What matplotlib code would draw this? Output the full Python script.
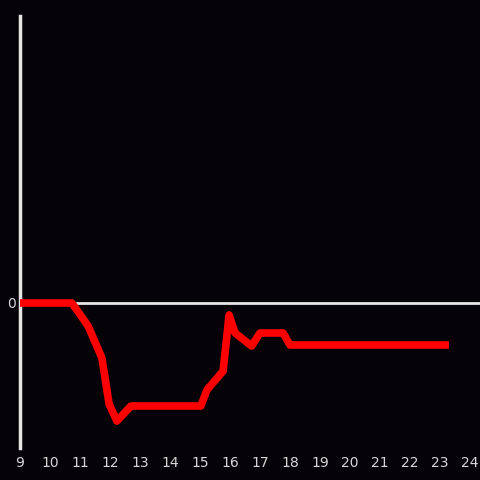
import matplotlib
matplotlib.use('Agg')
import matplotlib.pyplot as plt

# hour of day vs value
hours = [9, 10.73, 11.27, 11.73, 11.97, 12.23, 12.7, 15.03, 15.23, 15.77,
         15.97, 16.17, 16.72, 17.0, 17.77, 18.0, 23.3]
values = [0, 0, -23, -55, -101, -118, -103, -103, -87, -68,
          -12, -30, -43, -30, -30, -42, -42]
xticks = list(range(9, 25))

bg = '#050307'
fig = plt.figure(figsize=(4.8, 4.8), dpi=100, facecolor=bg)
ax = fig.add_axes([20 / 480, 32 / 480, 460 / 480, 432 / 480], facecolor=bg)

ax.axhline(0, color='#e6e6e6', linewidth=2, zorder=1)
ax.plot(hours, values, color='#ff0000', linewidth=5.5,
        solid_joinstyle='round', solid_capstyle='butt', zorder=3)

ax.set_xlim(9, 9 + 460 / 30)
ax.set_ylim(-145, 287)

for s in ['top', 'right', 'bottom']:
    ax.spines[s].set_visible(False)
ax.spines['left'].set_color('#e6e6e6')
ax.spines['left'].set_linewidth(2.5)

ax.set_xticks(xticks)
ax.set_xticklabels([str(h) for h in xticks])
ax.set_yticks([0])
ax.set_yticklabels(['0'])
ax.tick_params(axis='both', length=0, colors='#d8d8d8', labelsize=10)
ax.tick_params(axis='x', pad=6)
ax.tick_params(axis='y', pad=3)

fig.savefig('out.png', dpi=100, facecolor=bg)
